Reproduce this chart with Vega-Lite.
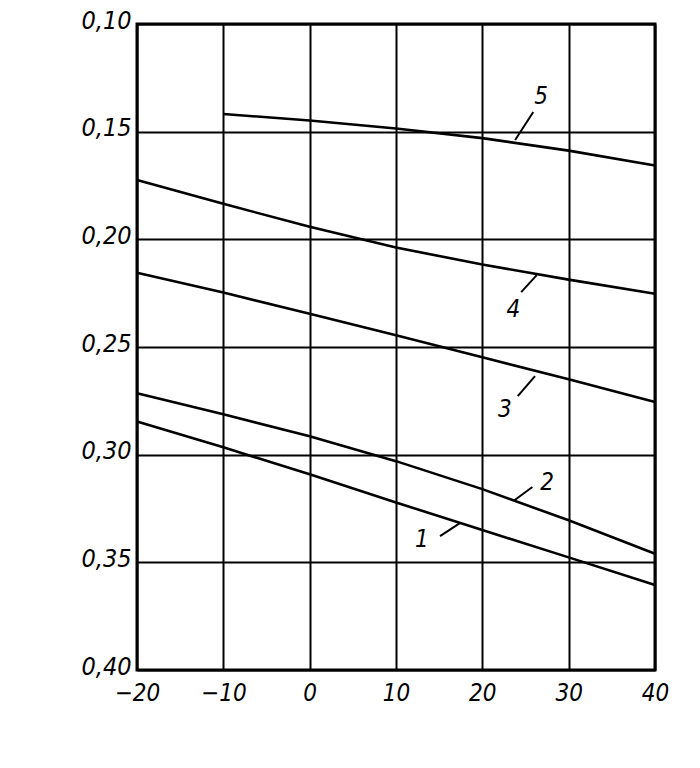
{
  "$schema": "https://vega.github.io/schema/vega-lite/v6.json",
  "autosize": "none",
  "width": 518,
  "height": 646,
  "padding": {"left": 137, "top": 24, "right": 45, "bottom": 98},
  "background": "white",
  "config": {
    "view": {"stroke": "black", "strokeWidth": 3},
    "font": "DejaVu Sans Condensed"
  },
  "datasets": {
    "curves": [
      {"t": -20, "v": 0.2846, "c": "1"}, {"t": -10, "v": 0.2966, "c": "1"}, {"t": 0, "v": 0.3091, "c": "1"}, {"t": 10, "v": 0.3222, "c": "1"}, {"t": 20, "v": 0.335, "c": "1"}, {"t": 30, "v": 0.3477, "c": "1"}, {"t": 40, "v": 0.3605, "c": "1"},
      {"t": -20, "v": 0.2715, "c": "2"}, {"t": -10, "v": 0.2812, "c": "2"}, {"t": 0, "v": 0.2915, "c": "2"}, {"t": 10, "v": 0.303, "c": "2"}, {"t": 20, "v": 0.316, "c": "2"}, {"t": 30, "v": 0.3305, "c": "2"}, {"t": 40, "v": 0.346, "c": "2"},
      {"t": -20, "v": 0.2155, "c": "3"}, {"t": -10, "v": 0.2247, "c": "3"}, {"t": 0, "v": 0.2346, "c": "3"}, {"t": 10, "v": 0.2445, "c": "3"}, {"t": 20, "v": 0.2548, "c": "3"}, {"t": 30, "v": 0.265, "c": "3"}, {"t": 40, "v": 0.2755, "c": "3"},
      {"t": -20, "v": 0.1725, "c": "4"}, {"t": -10, "v": 0.1835, "c": "4"}, {"t": 0, "v": 0.1942, "c": "4"}, {"t": 10, "v": 0.2038, "c": "4"}, {"t": 20, "v": 0.2117, "c": "4"}, {"t": 30, "v": 0.2187, "c": "4"}, {"t": 40, "v": 0.2253, "c": "4"},
      {"t": -10, "v": 0.1418, "c": "5"}, {"t": 0, "v": 0.1448, "c": "5"}, {"t": 10, "v": 0.1485, "c": "5"}, {"t": 20, "v": 0.153, "c": "5"}, {"t": 30, "v": 0.1588, "c": "5"}, {"t": 40, "v": 0.1657, "c": "5"}
    ],
    "leaders": [
      {"t1": 25.9, "v1": 0.1409, "t2": 23.8, "v2": 0.1539},
      {"t1": 26.3, "v1": 0.2166, "t2": 24.5, "v2": 0.2245},
      {"t1": 26.1, "v1": 0.2635, "t2": 24.1, "v2": 0.2728},
      {"t1": 25.8, "v1": 0.315, "t2": 23.6, "v2": 0.3215},
      {"t1": 15.1, "v1": 0.3378, "t2": 17.4, "v2": 0.3318}
    ],
    "labels": [
      {"t": 26.8, "v": 0.1339, "label": "5"},
      {"t": 23.6, "v": 0.2328, "label": "4"},
      {"t": 22.6, "v": 0.2793, "label": "3"},
      {"t": 27.5, "v": 0.3132, "label": "2"},
      {"t": 13.0, "v": 0.3397, "label": "1"}
    ]
  },
  "layer": [
    {
      "data": {"name": "curves"},
      "mark": {"type": "line", "color": "black", "strokeWidth": 2.6},
      "encoding": {
        "x": {
          "field": "t", "type": "quantitative",
          "scale": {"domain": [-20, 40], "nice": false, "zero": false},
          "axis": {
            "title": null, "values": [-20, -10, 0, 10, 20, 30, 40],
            "grid": true, "gridColor": "black", "gridWidth": 2, "gridOpacity": 1,
            "domain": false, "ticks": false,
            "labelPadding": 11, "labelFontSize": 24, "labelFontStyle": "italic",
            "labelColor": "black", "labelFont": "DejaVu Sans Condensed",
            "labelExpr": "datum.value < 0 ? '−' + abs(datum.value) : '' + datum.value",
            "labelFlush": false
          }
        },
        "y": {
          "field": "v", "type": "quantitative",
          "scale": {"domain": [0.1, 0.4], "nice": false, "zero": false, "reverse": true},
          "axis": {
            "title": null, "values": [0.1, 0.15, 0.2, 0.25, 0.3, 0.35, 0.4],
            "grid": true, "gridColor": "black", "gridWidth": 2, "gridOpacity": 1,
            "domain": false, "ticks": false,
            "labelPadding": 6, "labelFontSize": 25, "labelFontStyle": "italic",
            "labelOffset": -4,
            "labelColor": "black", "labelFont": "DejaVu Sans Condensed",
            "labelExpr": "replace(format(datum.value, '.2f'), '.', ',')",
            "labelFlush": false
          }
        },
        "detail": {"field": "c", "type": "nominal"}
      }
    },
    {
      "data": {"name": "leaders"},
      "mark": {"type": "rule", "color": "black", "strokeWidth": 2},
      "encoding": {
        "x": {"field": "t1", "type": "quantitative"},
        "y": {"field": "v1", "type": "quantitative"},
        "x2": {"field": "t2"},
        "y2": {"field": "v2"}
      }
    },
    {
      "data": {"name": "labels"},
      "mark": {"type": "text", "color": "black", "fontSize": 24, "fontStyle": "italic", "font": "DejaVu Sans Condensed", "align": "center", "baseline": "middle"},
      "encoding": {
        "x": {"field": "t", "type": "quantitative"},
        "y": {"field": "v", "type": "quantitative"},
        "text": {"field": "label"}
      }
    }
  ]
}
